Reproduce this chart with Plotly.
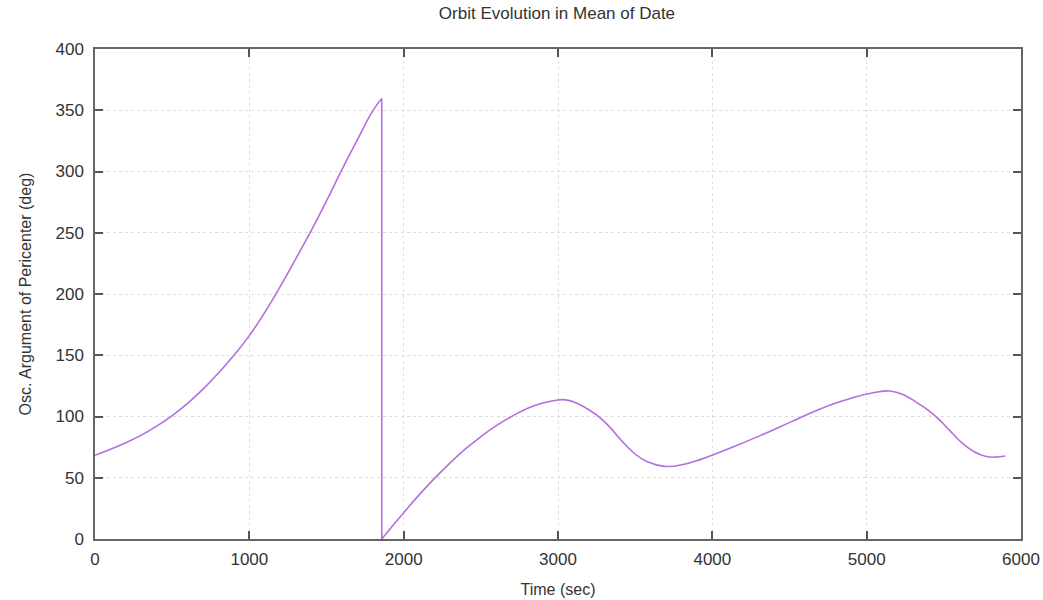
import plotly.graph_objects as go

# Segment 1 (before the 360 -> 0 wrap): time (sec), argument of pericenter (deg)
t1 = [0, 100, 200, 300, 400, 500, 600, 700, 800, 900, 1000, 1100, 1200, 1300,
      1400, 1500, 1600, 1700, 1800, 1858]
w1 = [68.3, 73.2, 78.6, 84.8, 92.2, 100.8, 110.8, 122.3, 135.5, 150, 166, 185, 206, 228.5,
      251.5, 276, 301.5, 326, 349.5, 359.6]

# Segment 2 (after the wrap)
t2 = [1858, 1950, 2000, 2100, 2200, 2300, 2400, 2500, 2600, 2700, 2800, 2900, 3000,
      3050, 3100, 3200, 3277, 3342, 3407, 3493, 3579, 3690, 3817, 3925, 4011, 4141,
      4314, 4500, 4686, 4850, 5011, 5151, 5250, 5335, 5400, 5465, 5550, 5617, 5700,
      5769, 5830, 5898]
w2 = [0, 14, 21.5, 36, 49.5, 62, 73.5, 83.5, 92.5, 100, 106.5, 111, 113.5,
      113.6, 112, 105.5, 98.5, 90.5, 81, 70, 63, 59.3, 61, 65, 69, 75.5,
      84.6, 95, 105.6, 113, 118.5, 120.8, 117, 110.5, 105, 98, 87, 78.5, 71,
      67.5, 66.8, 67.7]

line_color = "#b46fde"
FONT = "Liberation Sans, Arial, sans-serif"

fig = go.Figure()
fig.add_trace(go.Scatter(x=t1, y=w1, mode="lines",
                         line=dict(color=line_color, width=1.6, shape="spline", smoothing=1.3),
                         showlegend=False))
fig.add_trace(go.Scatter(x=[t1[-1], t2[0]], y=[w1[-1], w2[0]], mode="lines",
                         line=dict(color=line_color, width=1.6),
                         showlegend=False))
fig.add_trace(go.Scatter(x=t2, y=w2, mode="lines",
                         line=dict(color=line_color, width=1.6, shape="spline", smoothing=1.3),
                         showlegend=False))

axis_common = dict(
    showline=True, linecolor="#666666", linewidth=1.5, mirror="ticks",
    ticks="inside", ticklen=8, tickwidth=1.5, tickcolor="#555555",
    showgrid=True, gridcolor="#dedede", griddash="dot", gridwidth=1,
    zeroline=False, automargin=False,
    tickfont=dict(family=FONT, size=17, color="#333333"),
)

fig.update_layout(
    width=1043, height=600,
    paper_bgcolor="white", plot_bgcolor="white",
    margin=dict(l=95, r=22, t=49, b=61),
    title=dict(text="Orbit Evolution in Mean of Date", x=0.534, xanchor="center",
               y=0.978, yanchor="middle",
               font=dict(family=FONT, size=17, color="#333333")),
    xaxis=dict(range=[0, 6000], tickvals=[0, 1000, 2000, 3000, 4000, 5000, 6000],
               title=dict(text="Time (sec)", standoff=16,
                          font=dict(family=FONT, size=16, color="#333333")),
               ticklabelstandoff=4, **axis_common),
    yaxis=dict(range=[0, 400], tickvals=[0, 50, 100, 150, 200, 250, 300, 350, 400],
               title=dict(text="Osc. Argument of Pericenter (deg)", standoff=20,
                          font=dict(family=FONT, size=16, color="#333333")),
               ticklabelstandoff=6, **axis_common),
)

fig.write_html("out.html")
